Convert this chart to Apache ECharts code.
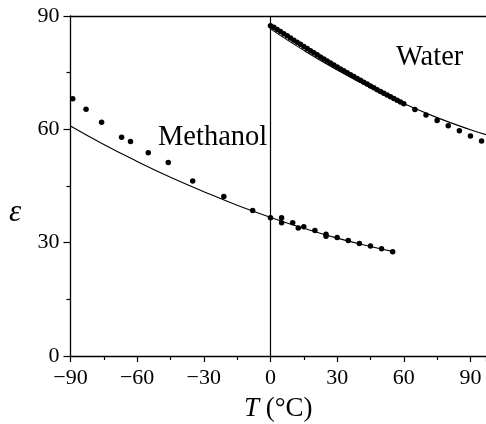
<!DOCTYPE html>
<html>
<head>
<meta charset="utf-8">
<script src="https://cdn.jsdelivr.net/npm/echarts@6/dist/echarts.min.js"></script>
<style>
  html, body { margin: 0; padding: 0; background: #fff; }
  #chart { width: 486px; height: 424px; }
</style>
</head>
<body>
<div id="chart"></div>
<script>
// methanol measured points [T, eps]
const methanolT = [-89, -83, -76, -67, -63, -55, -46, -35, -21, -8, 0, 5, 5, 10, 12.5, 15, 20, 25, 25, 30, 35, 40, 45, 50, 55];
const methanolEps = [68.1, 65.3, 61.9, 57.9, 56.8, 53.8, 51.2, 46.3, 42.2, 38.5, 36.6, 36.6, 35.3, 35.3, 33.9, 34.2, 33.2, 32.2, 31.7, 31.4, 30.6, 29.8, 29.1, 28.4, 27.6];
// methanol fit curve
const methanolFitT = [-90, -75, -60, -45, -30, -15, 0, 15, 30, 45, 55];
const methanolFitEps = [60.9, 56.0, 51.5, 47.3, 43.5, 39.9, 36.7, 33.8, 31.2, 29.0, 27.7];

// water measured points
const waterT = [0, 1.5, 3, 4.5, 6, 7.5, 9, 10.5, 12, 13.5, 15, 16.5, 18, 19.5, 21, 22.5, 24, 25.5, 27, 28.5,
  30, 31.5, 33, 34.5, 36, 37.5, 39, 40.5, 42, 43.5, 45, 46.5, 48, 49.5, 51, 52.5, 54, 55.5, 57, 58.5, 60,
  65, 70, 75, 80, 85, 90, 95];
const waterEps = [87.4, 87.0, 86.45, 85.9, 85.3, 84.75, 84.2, 83.6, 83.06, 82.50, 81.93, 81.38, 80.82, 80.27, 79.72, 79.18, 78.64, 78.11, 77.58, 77.05,
  76.52, 76.00, 75.49, 74.97, 74.46, 73.96, 73.45, 72.96, 72.46, 71.97, 71.48, 70.99, 70.51, 70.03, 69.56, 69.08, 68.62, 68.15, 67.69, 67.23, 66.77,
  65.27, 63.80, 62.37, 60.97, 59.60, 58.25, 56.93];
// water fit curve
const waterFitT = [0, 15, 30, 45, 60, 75, 90, 97];
const waterFitEps = [86.6, 80.9, 75.7, 71.0, 66.8, 63.1, 59.9, 58.6];

const xTicks = [-90, -60, -30, 0, 30, 60, 90];

const FONT = 'Liberation Serif';
const zip = (a, b) => a.map((v, i) => [v, b[i]]);

const chart = echarts.init(document.getElementById('chart'));

const dotStyle = { color: '#000', opacity: 1 };

chart.setOption({
  animation: false,
  backgroundColor: '#fff',
  grid: { left: 70.5, right: 0, top: 16, bottom: 68, outerBoundsMode: 'none', containLabel: false },
  xAxis: [{
    type: 'value',
    min: -90, max: 97, interval: 30,
    name: '{i|T} (°C)',
    nameLocation: 'middle',
    nameGap: 39,
    nameTextStyle: {
      fontFamily: FONT, fontSize: 27, color: '#000',
      rich: { i: { fontFamily: FONT, fontSize: 27, fontStyle: 'italic', color: '#000' } }
    },
    axisLine: { onZero: false, lineStyle: { color: '#000', width: 1.3 } },
    axisTick: { length: 6, lineStyle: { color: '#000', width: 1.2 } },
    minorTick: { show: true, splitNumber: 2, length: 4, lineStyle: { color: '#000', width: 1.2 } },
    splitLine: { show: false },
    axisLabel: {
      fontFamily: FONT, fontSize: 22, color: '#000', margin: 11,
      showMaxLabel: false,
      formatter: v => xTicks.includes(v) ? String(v).replace('-', '\u2212') : ''
    }
  }, {
    type: 'value', position: 'top',
    min: -90, max: 97,
    axisLine: { show: true, onZero: false, lineStyle: { color: '#000', width: 1.3 } },
    axisTick: { show: false }, axisLabel: { show: false }, splitLine: { show: false }
  }],
  yAxis: {
    type: 'value',
    min: 0, max: 90, interval: 30,
    axisLine: { show: true, onZero: false, lineStyle: { color: '#000', width: 1.3 } },
    axisTick: { show: true, length: 7, lineStyle: { color: '#000', width: 1.2 } },
    minorTick: { show: true, splitNumber: 2, length: 4, lineStyle: { color: '#000', width: 1.2 } },
    splitLine: { show: false },
    axisLabel: { fontFamily: FONT, fontSize: 22, color: '#000', margin: 11 }
  },
  graphic: [
    { type: 'text', left: 9, top: 197, style: { text: 'ε', font: 'italic 31px "Liberation Serif"', fill: '#000' } },
    { type: 'text', left: 158, top: 123, style: { text: 'Methanol', font: '28.5px "Liberation Serif"', fill: '#000' } },
    { type: 'text', left: 396, top: 43, style: { text: 'Water', font: '28.5px "Liberation Serif"', fill: '#000' } }
  ],
  series: [
    {
      type: 'line', data: zip(methanolFitT, methanolFitEps), smooth: true,
      showSymbol: false, lineStyle: { color: '#000', width: 1.1 },
      markLine: {
        silent: true, symbol: 'none', label: { show: false },
        lineStyle: { color: '#000', width: 1.2, type: 'solid' },
        data: [{ xAxis: 0 }]
      }
    },
    {
      type: 'line', data: zip(waterFitT, waterFitEps), smooth: true,
      showSymbol: false, lineStyle: { color: '#000', width: 1.1 }
    },
    { type: 'scatter', data: zip(methanolT, methanolEps), symbolSize: 5.5, itemStyle: dotStyle },
    { type: 'scatter', data: zip(waterT, waterEps), symbolSize: 5.5, itemStyle: dotStyle }
  ]
});
</script>
</body>
</html>
